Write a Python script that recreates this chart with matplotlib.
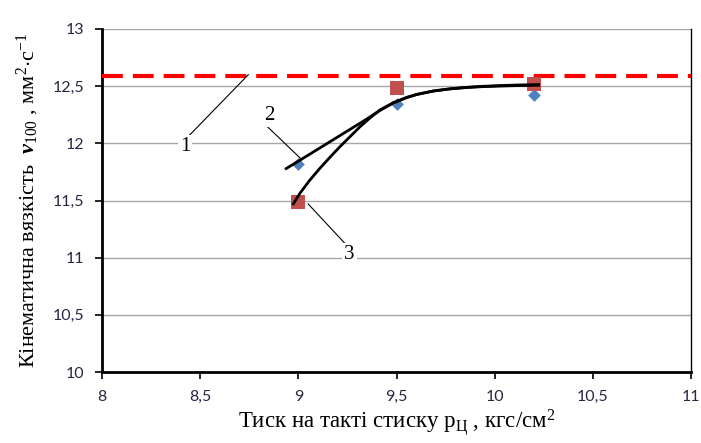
import matplotlib
matplotlib.use("Agg")
import matplotlib.pyplot as plt
from matplotlib.ticker import FuncFormatter, MultipleLocator

plt.rcParams["mathtext.fontset"] = "custom"
plt.rcParams["mathtext.rm"] = "Liberation Serif"
plt.rcParams["mathtext.it"] = "Liberation Serif:italic"
plt.rcParams["mathtext.bf"] = "Liberation Serif:bold"
plt.rcParams["mathtext.bfit"] = "Liberation Serif:bold:italic"

# Reference viscosity (line 1)
nu_ref = 12.59

# Measured points
p_meas = [9.0, 9.5, 10.2]
nu_series2 = [11.82, 12.34, 12.42]
nu_series3 = [11.49, 12.48, 12.52]

# Trend curves
trend2_p = [8.932, 9.008, 9.076, 9.144, 9.212, 9.280, 9.348, 9.416, 9.484,
            9.552, 9.603, 9.687, 9.773, 9.858, 9.94, 10.027, 10.112, 10.231]
trend2_nu = [11.773, 11.852, 11.924, 11.996, 12.068, 12.140, 12.212, 12.288,
             12.353, 12.400, 12.427, 12.457, 12.476, 12.488, 12.496, 12.501,
             12.505, 12.508]
trend3_p = [8.971, 9.008, 9.059, 9.110, 9.161, 9.212, 9.263, 9.314, 9.365,
            9.416, 9.484, 9.552, 9.603, 9.687, 9.773, 9.858, 9.94, 10.027,
            10.112, 10.231]
trend3_nu = [11.461, 11.563, 11.679, 11.782, 11.878, 11.971, 12.058, 12.145,
             12.222, 12.292, 12.356, 12.402, 12.428, 12.458, 12.477, 12.490,
             12.499, 12.505, 12.510, 12.514]

fig = plt.figure(figsize=(7.01, 4.43), dpi=100)
ax = fig.add_axes([102 / 701, 1 - 372 / 443, 589 / 701, 343 / 443])

ax.set_xlim(8, 11)
ax.set_ylim(10, 13)
ax.xaxis.set_major_locator(MultipleLocator(0.5))
ax.yaxis.set_major_locator(MultipleLocator(0.5))

fmt = FuncFormatter(lambda v, _: (f"{v:g}").replace(".", ","))
ax.xaxis.set_major_formatter(fmt)
ax.yaxis.set_major_formatter(fmt)

ax.yaxis.grid(True, color="#a6a6a6", linewidth=1.0)
ax.set_axisbelow(True)

for side in ("left", "bottom"):
    ax.spines[side].set_linewidth(2.0)
    ax.spines[side].set_color("black")
ax.spines["right"].set_linewidth(1.0)
ax.spines["top"].set_visible(False)

ax.tick_params(axis="both", direction="out", length=5, width=1.2,
               labelsize=11.5, labelcolor="#2a2540", pad=8)
for lbl in ax.get_xticklabels() + ax.get_yticklabels():
    lbl.set_fontfamily("Lato")

# Line 1
ax.axhline(nu_ref, color="#ff0000", linewidth=3.0, dashes=(5.0, 2.4), zorder=3)

# Measured points
ax.scatter(p_meas, nu_series2, marker="D", s=42, color="#4f81bd", zorder=4,
           linewidths=0)
ax.scatter(p_meas, nu_series3, marker="s", s=95, color="#c0504d", zorder=4,
           linewidths=0)

# Trend curves
ax.plot(trend2_p, trend2_nu, color="black", linewidth=2.0, zorder=5,
        solid_capstyle="butt", solid_joinstyle="round")
ax.plot(trend3_p, trend3_nu, color="black", linewidth=2.0, zorder=5,
        solid_capstyle="butt", solid_joinstyle="round")

# Callouts
callouts = [
    ("1", (8.423, 11.97), (8.445, 12.07), (8.745, 12.60)),
    ("2", (8.85, 12.24), (8.84, 12.15), (9.01, 11.87)),
    ("3", (9.26, 11.03), (9.24, 11.12), (9.05, 11.47)),
]
for txt, tpos, start, end in callouts:
    ax.plot([start[0], end[0]], [start[1], end[1]], color="black",
            linewidth=0.8, zorder=6)
    ax.text(tpos[0], tpos[1], txt, fontsize=15, family="Liberation Serif",
            ha="center", va="center", zorder=7,
            bbox=dict(boxstyle="square,pad=0.1", facecolor="white",
                      edgecolor="none"))

ax.set_xlabel(r"Тиск на такті стиску р$_{\mathrm{Ц}}$ , кгс/см$^{2}$",
              fontsize=16.5, family="Liberation Serif", labelpad=2)
ax.set_ylabel(r"Кінематична вязкість  $\boldsymbol{\nu}_{100}$ , мм$^{2}$$\cdot$с$^{-1}$",
              fontsize=16, family="Liberation Serif", labelpad=8)

fig.savefig("out.png", dpi=100)
